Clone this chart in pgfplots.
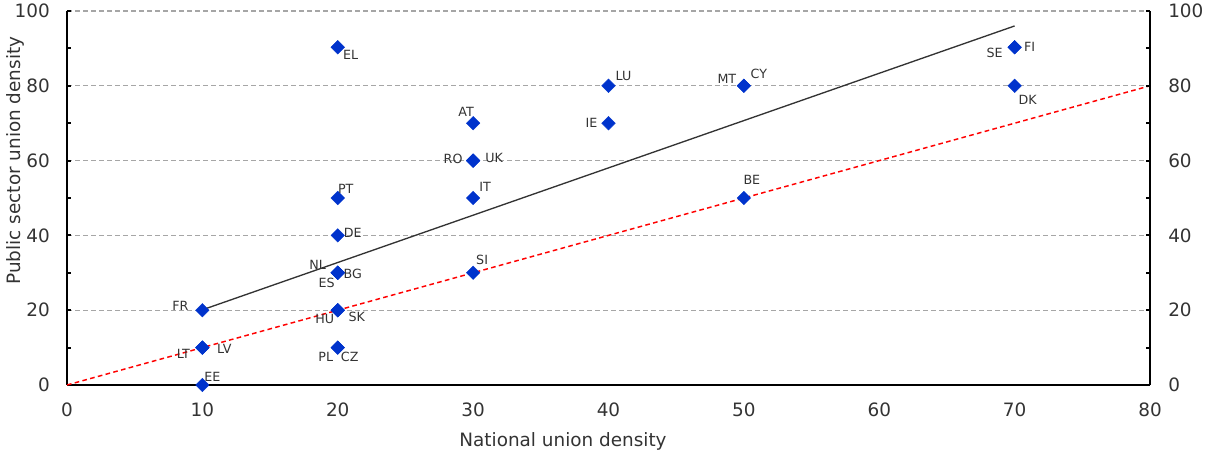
\documentclass[border=0pt]{standalone}
\usepackage{pgfplots}
\pgfplotsset{compat=1.18}
\usepackage{pgfplotstable}
\usepackage{fontspec}
\setmainfont{DejaVu Sans}
\definecolor{txt}{HTML}{333333}
\definecolor{mk}{HTML}{0033CC}
\definecolor{gridc}{HTML}{A6A6A6}
\pgfplotstableread{
x y lab dx dy
10 20 FR -16.5 3
10 10 LT -14.25 -4.5
10 10 LV 16.5 -0.75
10 0 EE 7.5 6
20 90.3 EL 9.75 -6
20 50 PT 6 6.75
20 40 DE 11.25 2.25
20 30 NL -15 6
20 30 BG 11.25 -0.75
20 30 ES -8.25 -7.5
20 20 HU -9.75 -6.75
20 20 SK 14.25 -5.25
20 10 PL -9 -6.75
20 10 CZ 9 -6.75
30 70 AT -5.25 8.25
30 60 RO -15 1.5
30 60 UK 15.75 2.25
30 50 IT 9 8.25
30 30 SI 6.75 9.75
40 80 LU 11.25 7.5
40 70 IE -12.75 0
50 80 MT -12.75 5.25
50 80 CY 11.25 9
50 50 BE 6 13.5
70 90.3 SE -15 -4.5
70 90.3 FI 11.25 0
70 80 DK 9.75 -10.5
}\pts
\begin{document}
\begin{tikzpicture}
\useasboundingbox (0,0) rectangle (903.75pt,339.75pt);
\begin{axis}[
  at={(50.25pt,51pt)}, anchor=south west,
  scale only axis, width=812.25pt, height=280.5pt,
  xmin=0, xmax=80, ymin=0, ymax=100,
  axis x line*=bottom, axis y line*=left,
  axis line style={line width=1.5pt, black},
  xtick={0,10,...,80}, ytick={0,20,...,100},
  minor ytick={10,30,...,90},
  major x tick style={draw=none},
  tick align=inside, major tick length=3pt, minor tick length=3pt,
  every tick/.style={black, line width=1.5pt},
  ymajorgrids,
  grid style={gridc, line width=0.8pt, dash pattern=on 3.5pt off 2.5pt},
  /pgf/number format/assume math mode=true,
  ticklabel style={font=\fontsize{13.8}{16}\selectfont, text=txt, inner sep=0pt},
  xticklabel style={anchor=north, yshift=-13.5pt},
  yticklabel style={anchor=east, xshift=-12.75pt},
  xlabel={National union density},
  ylabel={Public sector union density},
  label style={font=\fontsize{13.8}{16}\selectfont, text=txt, inner sep=0pt},
  xlabel style={at={(axis description cs:0.458,0)}, anchor=north, yshift=-35.5pt},
  ylabel style={at={(axis description cs:0,0.6)}, anchor=south, yshift=32pt},
  clip=false,
]
\addplot[color=txt, line width=1pt] coordinates {(10,20.1) (70,96)};
\addplot[color=red, line width=1.1pt, dash pattern=on 3.5pt off 2.5pt] coordinates {(0,0) (80,80)};
\addplot[only marks, mark=square*, mark size=3.6pt,
  mark options={rotate=45, fill=mk, draw=mk, line width=0.3pt},
  point meta=explicit symbolic,
  visualization depends on={\thisrow{dx} \as \dx},
  visualization depends on={\thisrow{dy} \as \dy},
  nodes near coords,
  every node near coord/.append style={anchor=center, xshift=\dx pt, yshift=\dy pt,
    font=\fontsize{9.5}{11}\selectfont, text=txt, inner sep=0pt},
] table[x=x, y=y, meta=lab] {\pts};
\end{axis}
\begin{axis}[
  at={(50.25pt,51pt)}, anchor=south west,
  scale only axis, width=812.25pt, height=280.5pt,
  xmin=0, xmax=80, ymin=0, ymax=100,
  axis x line=none, axis y line*=right,
  axis line style={line width=1.5pt, black},
  ytick={0,20,...,100}, minor ytick={10,30,...,90},
  tick align=inside, major tick length=3pt, minor tick length=3pt,
  every tick/.style={black, line width=1.5pt},
  /pgf/number format/assume math mode=true,
  ticklabel style={font=\fontsize{13.8}{16}\selectfont, text=txt, inner sep=0pt},
  yticklabel style={anchor=west, xshift=13.5pt},
]
\addplot[draw=none] coordinates {(0,0)};
\end{axis}
\end{tikzpicture}
\end{document}
